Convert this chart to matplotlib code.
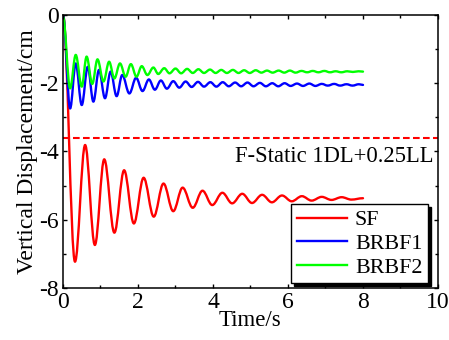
import matplotlib
matplotlib.use("Agg")
import matplotlib.pyplot as plt
from matplotlib.path import Path
from matplotlib.patches import PathPatch
from matplotlib.lines import Line2D
from matplotlib.ticker import MultipleLocator

plt.rcParams["font.family"] = ["Liberation Serif", "DejaVu Serif"]
plt.rcParams["axes.unicode_minus"] = False

# ── Data: turning points (peaks / troughs) ──

sf_t = [0.00, 0.32, 0.59, 0.85, 1.10, 1.37, 1.63, 1.89, 2.15, 2.42, 2.68,
        2.94, 3.19, 3.46, 3.72, 3.98, 4.25, 4.51, 4.78, 5.04, 5.31, 5.57,
        5.84, 6.10, 6.37, 6.63, 6.90, 7.16, 7.43, 7.69, 8.00]
sf_v = [0.00, -7.23, -3.81, -6.74, -4.23, -6.38, -4.55, -6.11, -4.77, -5.91,
        -4.94, -5.75, -5.06, -5.65, -5.15, -5.57, -5.21, -5.52, -5.24, -5.51,
        -5.27, -5.49, -5.29, -5.46, -5.31, -5.44, -5.33, -5.42, -5.34, -5.41,
        -5.37]

brbf1_t = [0.00, 0.19, 0.34, 0.50, 0.66, 0.81, 0.96, 1.12, 1.27, 1.43, 1.58,
           1.77, 1.95, 2.12, 2.29, 2.45, 2.61, 2.77, 2.94, 3.10, 3.27, 3.43,
           3.60, 3.76, 3.93, 4.09, 4.26, 4.42, 4.59, 4.75, 4.92, 5.08, 5.25,
           5.41, 5.58, 5.74, 5.91, 6.07, 6.24, 6.40, 6.57, 6.73, 6.90, 7.06,
           7.23, 7.39, 7.56, 7.72, 7.89, 8.00]
brbf1_v = [0.00, -2.74, -1.42, -2.64, -1.52, -2.54, -1.61, -2.44, -1.66,
           -2.38, -1.76, -2.30, -1.84, -2.23, -1.89, -2.19, -1.92, -2.16,
           -1.94, -2.13, -1.95, -2.11, -1.96, -2.10, -1.97, -2.10, -1.97,
           -2.09, -1.98, -2.09, -1.98, -2.09, -1.99, -2.09, -2.00, -2.09,
           -2.00, -2.08, -2.01, -2.08, -2.01, -2.08, -2.02, -2.07, -2.02,
           -2.07, -2.03, -2.07, -2.03, -2.05]

brbf2_t = [0.00, 0.19, 0.34, 0.50, 0.63, 0.78, 0.92, 1.08, 1.23, 1.37, 1.52,
           1.67, 1.81, 1.96, 2.10, 2.25, 2.41, 2.54, 2.70, 2.84, 3.00, 3.15,
           3.31, 3.46, 3.61, 3.76, 3.92, 4.07, 4.22, 4.37, 4.53, 4.68, 4.83,
           4.98, 5.14, 5.29, 5.44, 5.59, 5.75, 5.90, 6.05, 6.20, 6.36, 6.51,
           6.66, 6.81, 6.97, 7.12, 7.27, 7.42, 7.58, 7.73, 7.88, 8.00]
brbf2_v = [-0.05, -2.15, -1.17, -2.10, -1.22, -2.02, -1.30, -1.95, -1.37,
           -1.86, -1.42, -1.81, -1.44, -1.81, -1.50, -1.76, -1.54, -1.73,
           -1.56, -1.71, -1.57, -1.71, -1.58, -1.70, -1.59, -1.70, -1.60,
           -1.70, -1.61, -1.70, -1.61, -1.70, -1.62, -1.70, -1.62, -1.69,
           -1.63, -1.69, -1.63, -1.69, -1.63, -1.69, -1.64, -1.68, -1.64,
           -1.68, -1.64, -1.68, -1.65, -1.68, -1.65, -1.67, -1.65, -1.66]

static_level = -3.6
series = [("SF", sf_t, sf_v, "#FF0000"),
          ("BRBF1", brbf1_t, brbf1_v, "#0000FF"),
          ("BRBF2", brbf2_t, brbf2_v, "#00FF00")]


def smooth_path(t, v, k=0.36):
    # cubic Bezier through the turning points, flat tangent at each one
    verts = [(t[0], v[0])]
    codes = [Path.MOVETO]
    for i in range(1, len(t)):
        dt = t[i] - t[i - 1]
        verts += [(t[i - 1] + k * dt, v[i - 1]), (t[i] - k * dt, v[i]),
                  (t[i], v[i])]
        codes += [Path.CURVE4] * 3
    return Path(verts, codes)


fig = plt.figure(figsize=(4.49, 3.40), dpi=100)
ax = fig.add_axes([0.1403, 0.153, 0.8352, 0.803])

handles = []
for name, t, v, col in series:
    ax.add_patch(PathPatch(smooth_path(t, v), fill=False, edgecolor=col,
                           lw=1.7, capstyle="round", joinstyle="round"))
    handles.append(Line2D([], [], color=col, lw=1.7, label=name))

ax.axhline(static_level, color="#FF0000", lw=1.5, ls="--", dashes=(3.2, 1.6))
ax.text(9.87, -4.15, "F-Static 1DL+0.25LL", ha="right", va="center",
        fontsize=16.3)

ax.set_xlim(0, 10)
ax.set_ylim(-8, 0)
ax.xaxis.set_major_locator(MultipleLocator(2))
ax.xaxis.set_minor_locator(MultipleLocator(1))
ax.yaxis.set_major_locator(MultipleLocator(2))
ax.yaxis.set_minor_locator(MultipleLocator(1))
ax.tick_params(which="both", direction="in", top=True, right=True,
               width=1.0, labelsize=17, pad=3)
ax.tick_params(which="major", length=3.2)
ax.tick_params(which="minor", length=2.2)
for s in ax.spines.values():
    s.set_linewidth(1.1)

ax.set_xlabel("Time/s", fontsize=16.5, labelpad=-2)
ax.set_ylabel("Vertical Displacement/cm", fontsize=17, labelpad=1)

leg = ax.legend(handles=handles, loc="lower right",
                bbox_to_anchor=(0.973, 0.018), borderaxespad=0,
                fontsize=15.8, fancybox=False, framealpha=1,
                edgecolor="black", shadow={"color": "black", "alpha": 1},
                handlelength=2.3, handletextpad=0.35, labelspacing=0.15,
                borderpad=0.25)
leg.get_frame().set_linewidth(1.0)

fig.savefig("out.png", dpi=100)
